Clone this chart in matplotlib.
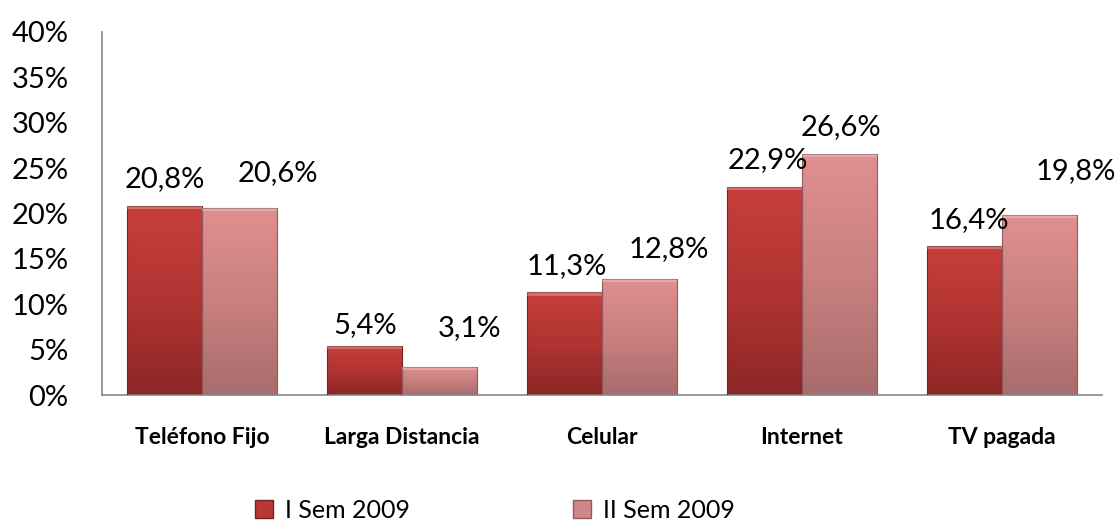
"""Porcentaje por servicio, I y II semestre 2009."""

import numpy as np
import matplotlib
matplotlib.use("Agg")
import matplotlib.pyplot as plt
from matplotlib.colors import LinearSegmentedColormap
from matplotlib.patches import Rectangle

categories = ["Teléfono Fijo", "Larga Distancia", "Celular", "Internet", "TV pagada"]
sem1 = [20.8, 5.4, 11.3, 22.9, 16.4]
sem2 = [20.6, 3.1, 12.8, 26.6, 19.8]
series_names = ["I Sem 2009", "II Sem 2009"]
yticks = [0, 5, 10, 15, 20, 25, 30, 35, 40]

# label baseline offsets in pixels (dx, dy above bar top), as placed in the original
off1 = [(0, 19), (1, 13), (2, 18), (3, 19), (4, 18)]
off2 = [(38, 27), (30, 31), (29, 22), (1, 19), (36, 36)]

plt.rcParams["font.family"] = ["Lato", "DejaVu Sans"]

fig = plt.figure(figsize=(11.19, 5.22), dpi=100)
ax = fig.add_axes([102 / 1119, 1 - 395 / 522, 1000 / 1119, 363 / 522])

width = 0.375
x = np.arange(len(categories))

cmap1 = LinearSegmentedColormap.from_list("c1", ["#8c2725", "#b13432", "#c63f3d"])
cmap2 = LinearSegmentedColormap.from_list("c2", ["#a86c6c", "#c98080", "#e08f8f"])
grad = np.linspace(0, 1, 256).reshape(-1, 1)


def draw_bar(xc, h, cmap, edge):
    x0 = xc - width / 2
    im = ax.imshow(grad, extent=[x0, x0 + width, 0, h], origin="lower",
                   cmap=cmap, aspect="auto", zorder=2)
    rect = Rectangle((x0, 0), width, h, fill=False, edgecolor=edge, lw=0.8, zorder=3)
    ax.add_patch(rect)
    im.set_clip_path(rect)
    # top bevel highlight
    ax.add_patch(Rectangle((x0, h - 0.35), width, 0.35, facecolor="white",
                           alpha=0.25, lw=0, zorder=3))


def fmt(v):
    return f"{v:.1f}%".replace(".", ",")


for i in range(len(categories)):
    draw_bar(x[i] - width / 2, sem1[i], cmap1, "#7a2220")
    draw_bar(x[i] + width / 2, sem2[i], cmap2, "#8f5a5a")
    ax.annotate(fmt(sem1[i]), (x[i] - width / 2, sem1[i]),
                xytext=off1[i], textcoords="offset pixels", ha="center", va="baseline",
                fontsize=21, color="black")
    ax.annotate(fmt(sem2[i]), (x[i] + width / 2, sem2[i]),
                xytext=off2[i], textcoords="offset pixels", ha="center", va="baseline",
                fontsize=21, color="black")

ax.set_xlim(-0.5, len(categories) - 0.5)
ax.set_ylim(0, 40)
ax.set_yticks(yticks)
ax.set_yticklabels([f"{t}%" for t in yticks], fontsize=21)
ax.set_xticks(x)
ax.set_xticklabels(categories, fontsize=16.5, fontweight="bold")
ax.tick_params(axis="both", length=0)
ax.tick_params(axis="x", pad=23)
ax.tick_params(axis="y", pad=24)

for s in ["top", "right"]:
    ax.spines[s].set_visible(False)
ax.spines["left"].set_color("#868686")
ax.spines["bottom"].set_color("#868686")
ax.spines["left"].set_linewidth(1.2)
ax.spines["bottom"].set_linewidth(1.2)

handles = [Rectangle((0, 0), 1, 1, facecolor="#b93735", edgecolor="#7a2220"),
           Rectangle((0, 0), 1, 1, facecolor="#d08686", edgecolor="#8f5a5a")]
fig.legend(handles, series_names, loc="center", bbox_to_anchor=(495 / 1119, 1 - 510 / 522),
           ncol=2, frameon=False, fontsize=18, handlelength=0.72, handleheight=0.72,
           handletextpad=0.48, columnspacing=6.5, borderpad=0)

fig.savefig("out.png", dpi=100)
